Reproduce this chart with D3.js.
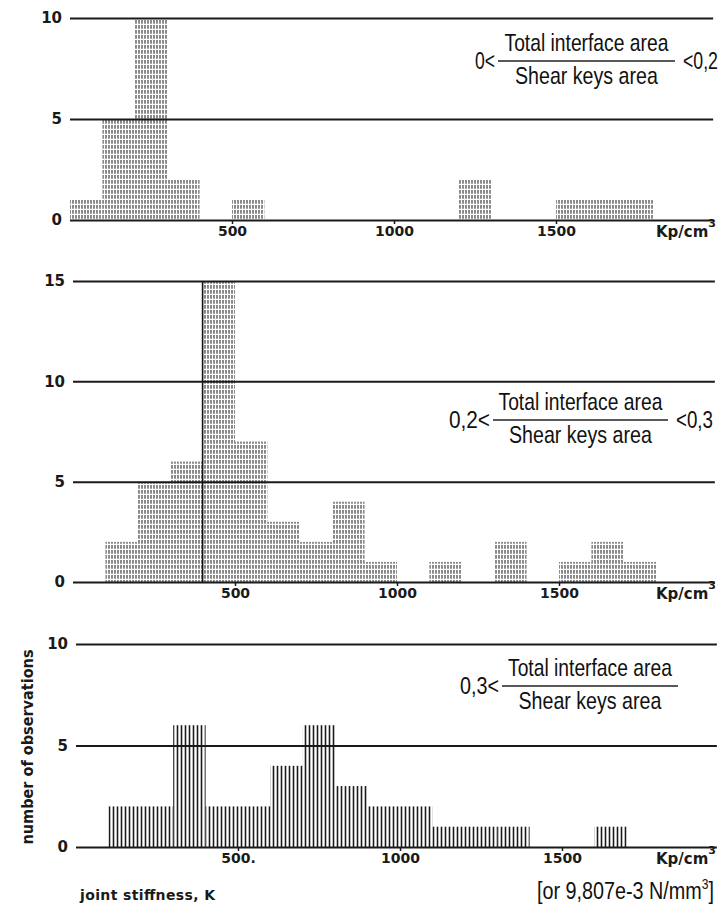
<!DOCTYPE html>
<html>
<head>
<meta charset="utf-8">
<script src="https://cdn.jsdelivr.net/npm/d3@7"></script>
<style>
    body { margin: 0; background: #fff; }
    svg { display: block; }
</style>
</head>
<body>
<div id="chart"></div>
<script>
(function() {

    // Define the dimensions of the SVG container
    var width = 725;
    var height = 913;

    // Bin width of the histograms (Kp/cm3)
    var binWidth = 100;

    // Panel 1 : 0 < ratio < 0,2  (lower bin edge, number of observations)
    var bins1 = [0, 100, 200, 300, 500, 1200, 1500, 1600, 1700];
    var counts1 = [1, 5, 10, 2, 1, 2, 1, 1, 1];

    // Panel 2 : 0,2 < ratio < 0,3
    var bins2 = [100, 200, 300, 400, 500, 600, 700, 800, 900, 1100, 1300, 1500, 1600, 1700];
    var counts2 = [2, 5, 6, 15, 7, 3, 2, 4, 1, 1, 2, 1, 2, 1];

    // Panel 3 : 0,3 < ratio
    var bins3 = [100, 200, 300, 400, 500, 600, 700, 800, 900, 1000, 1100, 1200, 1300, 1600];
    var counts3 = [2, 2, 6, 2, 2, 4, 6, 3, 2, 2, 1, 1, 1, 1];

    // Tick values and labels
    var yTicks1 = [0, 5, 10];
    var yTicks2 = [0, 5, 10, 15];
    var yTicks3 = [0, 5, 10];
    var xTicks = [500, 1000, 1500];
    var xTickLabels1 = ["500", "1000", "1500"];
    var xTickLabels2 = ["500", "1000", "1500"];
    var xTickLabels3 = ["500.", "1000", "1500"];

    // Ratio labels for each panel
    var leftLabels = ["0<", "0,2<", "0,3<"];
    var rightLabels = ["<0,2", "<0,3", ""];
    var fracTop = "Total interface area";
    var fracBottom = "Shear keys area";

    // Layout of the three panels (pixels)
    var panels = [
        { bins: bins1, counts: counts1, yTicks: yTicks1, xLabels: xTickLabels1,
          x0: 70, y0: 220, yTop: 18, yMax: 10, xEnd: 1985, fill: "url(#dots)",
          frac: { x1: 498, x2: 675, y: 61 }, leftW: 20, rightW: 35, peakEdge: false },
        { bins: bins2, counts: counts2, yTicks: yTicks2, xLabels: xTickLabels2,
          x0: 73, y0: 582, yTop: 281, yMax: 15, xEnd: 1981, fill: "url(#dots)",
          frac: { x1: 493, x2: 668, y: 420 }, leftW: 41, rightW: 37, peakEdge: true },
        { bins: bins3, counts: counts3, yTicks: yTicks3, xLabels: xTickLabels3,
          x0: 76, y0: 847, yTop: 644, yMax: 10, xEnd: 1978, fill: "url(#lines)",
          frac: { x1: 502, x2: 678, y: 686 }, leftW: 39, rightW: 0, peakEdge: false }
    ];

    var pxPerUnit = 0.324;
    var tickFont = "'DejaVu Sans', sans-serif";
    var narrowFont = "'Liberation Sans Narrow', 'Liberation Sans', Arial, sans-serif";

    // Create an SVG container
    var svg = d3.select("#chart")
        .append("svg")
        .attr("width", width)
        .attr("height", height);

    svg.append("rect")
        .attr("width", width)
        .attr("height", height)
        .attr("fill", "#fff");

    // Hatch patterns: dotted vertical lines (upper panels), solid lines (bottom)
    var defs = svg.append("defs");

    var dots = defs.append("pattern")
        .attr("id", "dots")
        .attr("patternUnits", "userSpaceOnUse")
        .attr("width", 3)
        .attr("height", 5);
    dots.append("line")
        .attr("x1", 1).attr("x2", 1)
        .attr("y1", 0).attr("y2", 3.8)
        .attr("stroke", "#2a2a2a")
        .attr("stroke-width", 1.1);

    var lines = defs.append("pattern")
        .attr("id", "lines")
        .attr("patternUnits", "userSpaceOnUse")
        .attr("width", 4)
        .attr("height", 10);
    lines.append("line")
        .attr("x1", 1.5).attr("x2", 1.5)
        .attr("y1", 0).attr("y2", 10)
        .attr("stroke", "#1a1a1a")
        .attr("stroke-width", 1.6);

    // Narrow text: draw with a normal sans font, then squeeze it to the wanted width
    function narrowText(parent, str, x, y, w, size, anchor) {
        var g = parent.append("g");
        var t = g.append("text")
            .attr("font-family", narrowFont)
            .attr("font-size", size)
            .attr("fill", "#111")
            .text(str);
        var natural = t.node().getComputedTextLength();
        var sx = w / natural;
        var left = anchor === "middle" ? x - w / 2 : (anchor === "end" ? x - w : x);
        g.attr("transform", "translate(" + left + "," + y + ") scale(" + sx + ",1)");
        return t;
    }

    panels.forEach(function(p, i) {

        var x = d3.scaleLinear()
            .domain([0, p.xEnd])
            .range([p.x0, p.x0 + p.xEnd * pxPerUnit]);

        var y = d3.scaleLinear()
            .domain([0, p.yMax])
            .range([p.y0, p.yTop]);

        var g = svg.append("g");

        // Bars
        var data = p.bins.map(function(b, j) {
            return { start: b, count: p.counts[j] };
        });

        g.append("g")
            .selectAll("rect")
            .data(data)
            .enter().append("rect")
            .attr("x", function(d) { return x(d.start); })
            .attr("width", function(d) { return x(d.start + binWidth) - x(d.start); })
            .attr("y", function(d) { return y(d.count); })
            .attr("height", function(d) { return y(0) - y(d.count); })
            .attr("fill", p.fill);

        // Solid left edge of the tallest bar
        if (p.peakEdge) {
            var peak = data.reduce(function(a, b) { return b.count > a.count ? b : a; });
            g.append("line")
                .attr("x1", x(peak.start)).attr("x2", x(peak.start))
                .attr("y1", y(0)).attr("y2", y(peak.count))
                .attr("stroke", "#111")
                .attr("stroke-width", 1.6);
        }

        // Horizontal grid lines with y labels
        var yAxis = d3.axisLeft(y)
            .tickValues(p.yTicks)
            .tickFormat(d3.format("d"))
            .tickSize(-(x(p.xEnd) - x(0)))
            .tickPadding(8);

        var gy = g.append("g")
            .attr("transform", "translate(" + x(0) + ",0)")
            .call(yAxis);
        gy.select(".domain").remove();
        gy.selectAll(".tick line")
            .attr("stroke", "#1a1a1a")
            .attr("stroke-width", 2);
        gy.selectAll(".tick text")
            .attr("font-family", tickFont)
            .attr("font-weight", "bold")
            .attr("font-size", 15)
            .attr("fill", "#1a1a1a");

        // x axis ticks and labels
        var xAxis = d3.axisBottom(x)
            .tickValues(xTicks)
            .tickFormat(function(d, k) { return p.xLabels[k]; })
            .tickSize(4)
            .tickPadding(2);

        var gx = g.append("g")
            .attr("transform", "translate(0," + y(0) + ")")
            .call(xAxis);
        gx.select(".domain").remove();
        gx.selectAll(".tick line")
            .attr("stroke", "#1a1a1a")
            .attr("stroke-width", 1.5);
        gx.selectAll(".tick text")
            .attr("font-family", tickFont)
            .attr("font-weight", "bold")
            .attr("font-size", 14)
            .attr("fill", "#1a1a1a");

        // Unit label
        var unit = g.append("text")
            .attr("x", 656)
            .attr("y", y(0) + 17)
            .attr("font-family", tickFont)
            .attr("font-weight", "bold")
            .attr("font-size", 15)
            .attr("fill", "#1a1a1a")
            .attr("textLength", 60)
            .attr("lengthAdjust", "spacing");
        unit.append("tspan").text("Kp/cm");
        unit.append("tspan")
            .attr("font-size", 11)
            .attr("dy", -10)
            .text("3");

        // Ratio annotation
        var f = p.frac;
        g.append("line")
            .attr("x1", f.x1).attr("x2", f.x2)
            .attr("y1", f.y).attr("y2", f.y)
            .attr("stroke", "#222")
            .attr("stroke-width", 1.3);

        narrowText(g, fracTop, (f.x1 + f.x2) / 2, f.y - 10, 164, 24, "middle");
        narrowText(g, fracBottom, (f.x1 + f.x2) / 2, f.y + 23, 143, 24, "middle");
        narrowText(g, leftLabels[i], f.x1 - 3, f.y + 8, p.leftW, 23, "end");
        if (rightLabels[i]) {
            narrowText(g, rightLabels[i], f.x2 + 8, f.y + 8, p.rightW, 23, "start");
        }
    });

    // Axis titles
    svg.append("text")
        .attr("transform", "translate(33,747) rotate(-90)")
        .attr("text-anchor", "middle")
        .attr("font-family", tickFont)
        .attr("font-weight", "bold")
        .attr("font-size", 15)
        .attr("fill", "#1a1a1a")
        .attr("textLength", 195)
        .attr("lengthAdjust", "spacingAndGlyphs")
        .text("number of observations");

    svg.append("text")
        .attr("x", 80)
        .attr("y", 900)
        .attr("font-family", tickFont)
        .attr("font-weight", "bold")
        .attr("font-size", 14)
        .attr("fill", "#1a1a1a")
        .attr("textLength", 135)
        .attr("lengthAdjust", "spacing")
        .text("joint stiffness, K");

    // Unit conversion note, narrowed like the original typeface
    var alt = svg.append("g")
        .attr("transform", "translate(537,899) scale(0.86,1)")
        .append("text")
        .attr("font-family", narrowFont)
        .attr("font-size", 23)
        .attr("fill", "#111");
    alt.append("tspan").text("[or 9,807e-3 N/mm");
    alt.append("tspan").attr("font-size", 14).attr("dy", -10).text("3");
    alt.append("tspan").attr("dy", 10).text("]");

})();
</script>
</body>
</html>
